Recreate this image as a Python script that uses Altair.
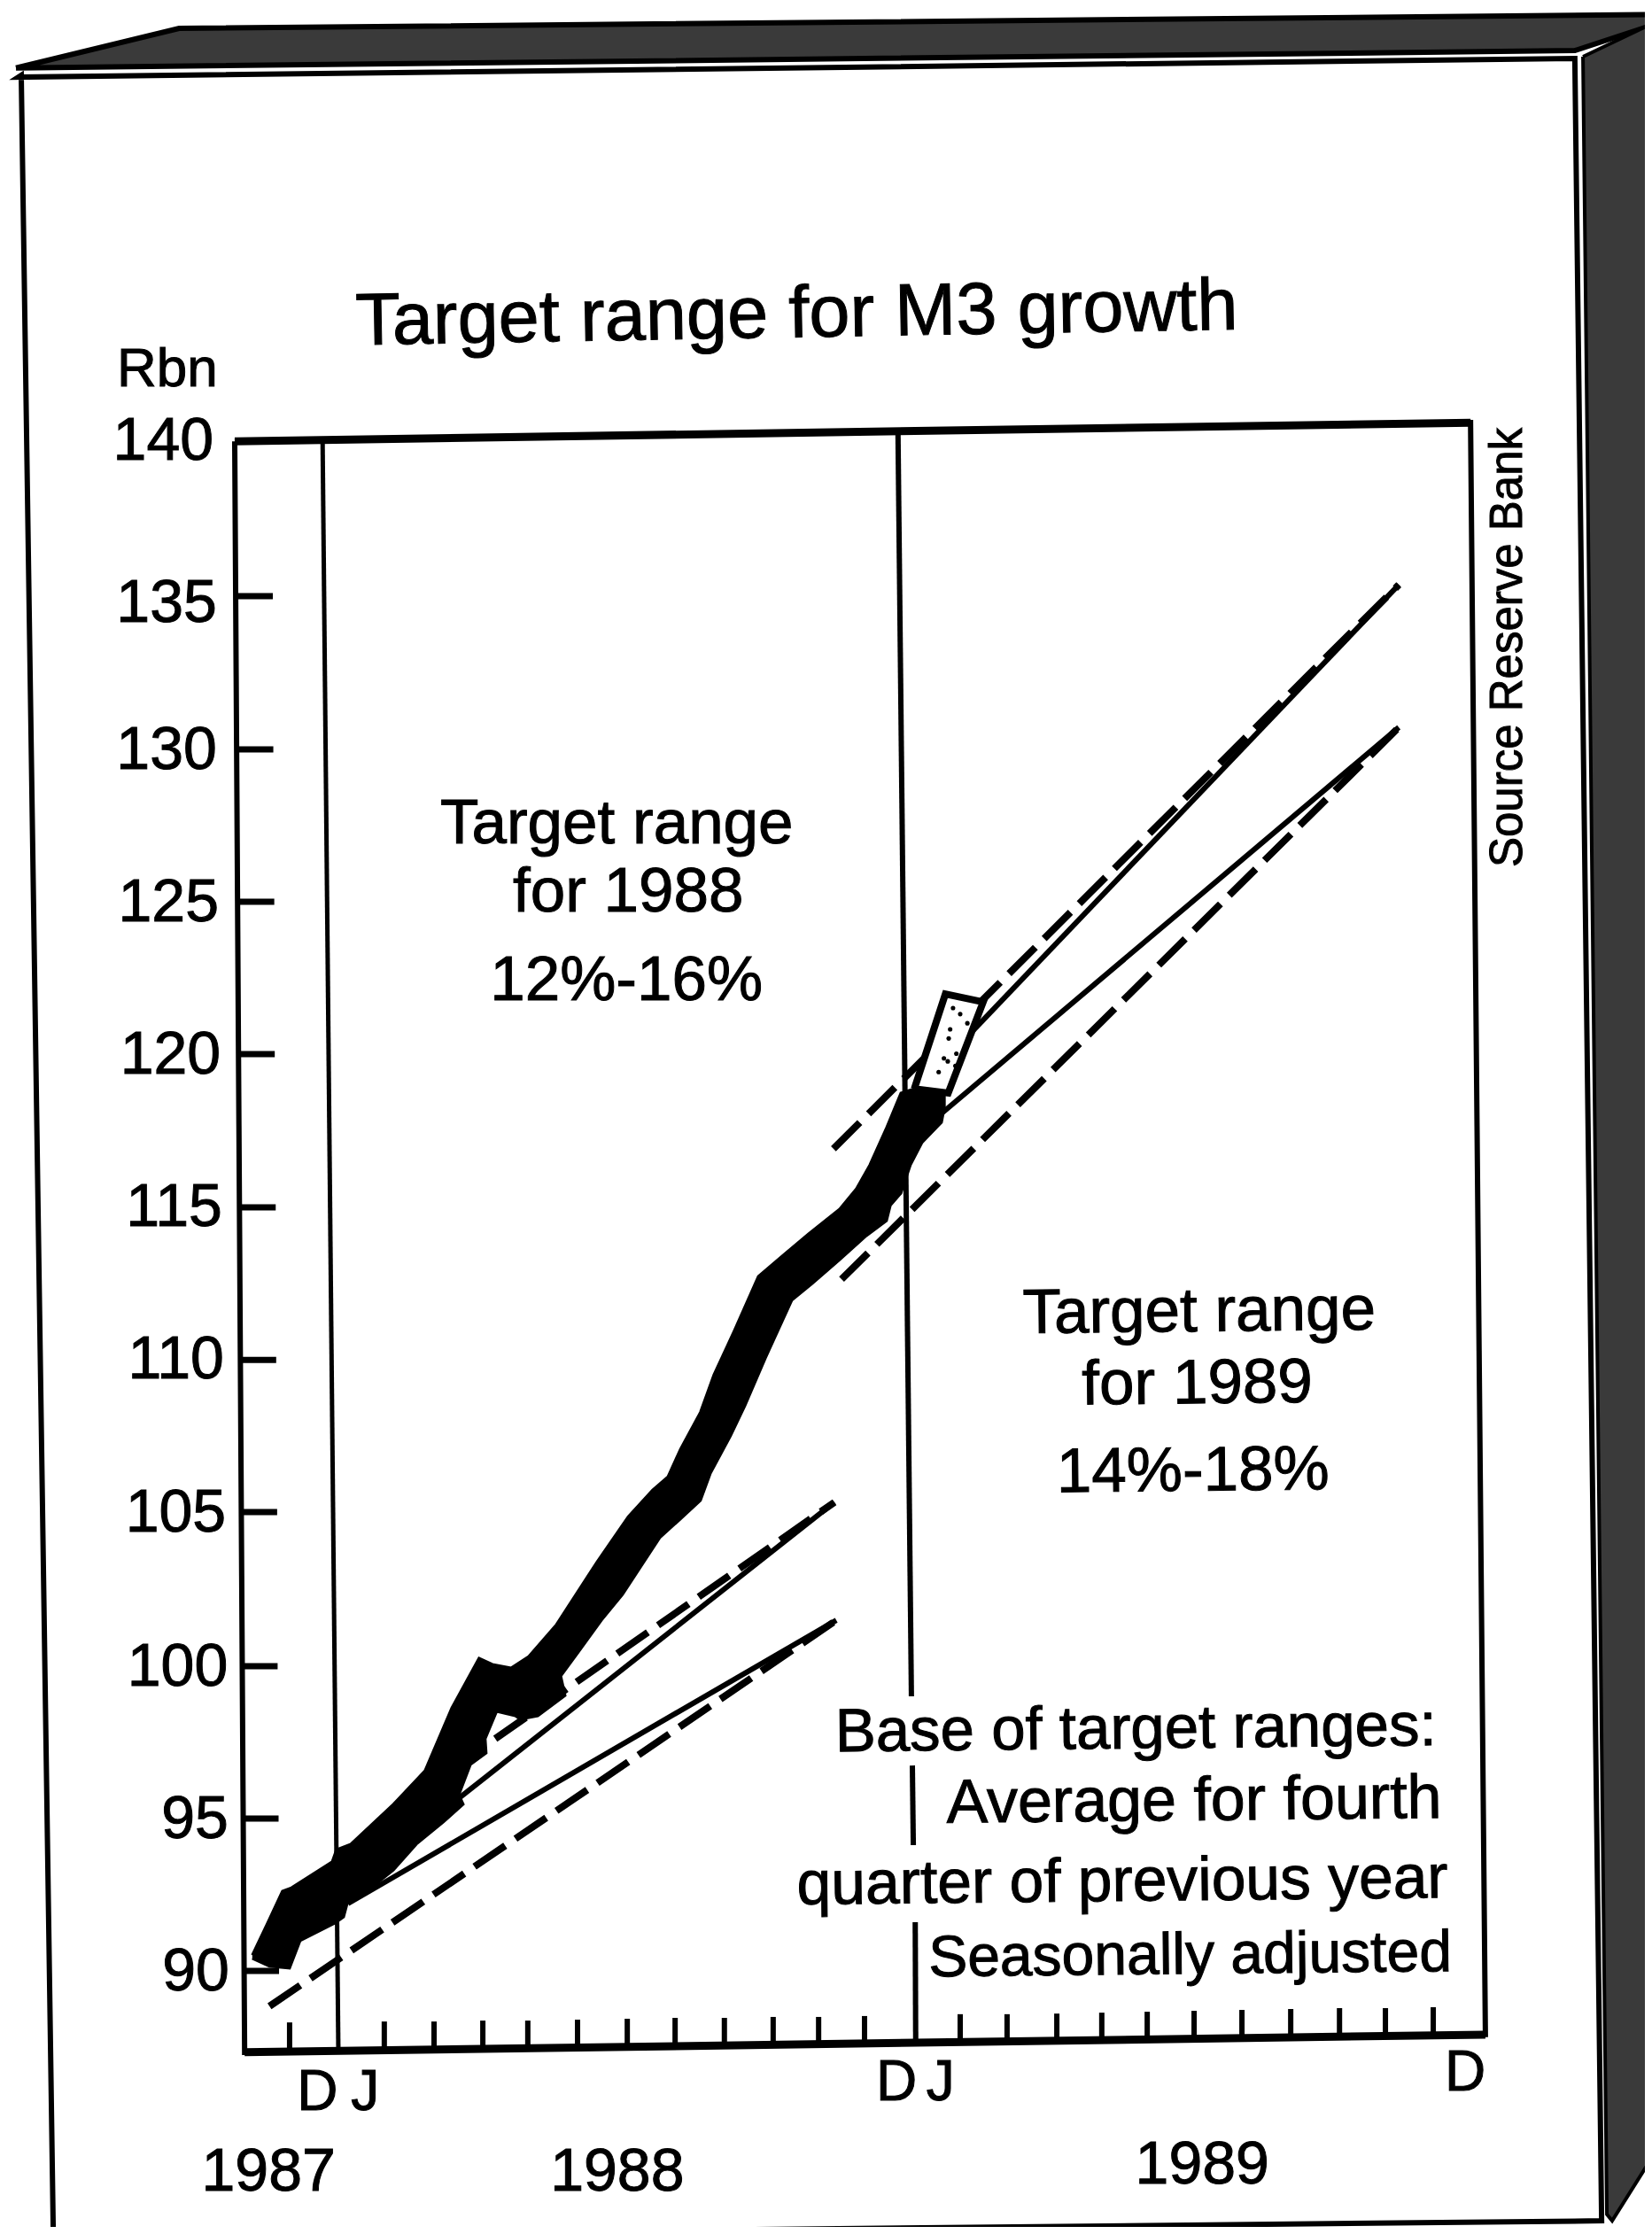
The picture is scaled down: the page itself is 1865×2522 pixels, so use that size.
import altair as alt
import pandas as pd

# Months since December 1987 and Rbn
X_DOMAIN = [-6.926, 27.315]
Y_DOMAIN = [81.599, 154.448]

band_upper_x = [-1.80,-1.50,-1.17,-0.98,-0.13,-0.04,0.26,1.15,1.81,2.37,2.94,3.22,3.61,3.98,4.56,5.41,6.06,6.57,6.89,7.15,7.57,7.85,8.28,8.78,9.28,9.83,10.48,10.83,11.11,11.46,11.76,12.04,12.52,12.67]
band_upper_y = [90.52,91.51,92.62,92.73,93.58,93.98,94.16,95.47,96.57,98.63,100.26,100.06,99.94,100.32,101.37,103.43,104.91,105.78,106.22,107.12,108.34,109.56,111.02,112.79,113.46,114.19,115.0,115.67,116.45,117.67,118.81,118.95,118.72,118.75]
band_lower_x = [-1.80,-1.44,-1.02,-0.80,-0.07,0.11,0.20,0.69,1.15,1.63,2.19,2.61,2.52,2.76,3.09,3.07,3.31,3.70,3.80,4.17,4.74,4.65,5.02,5.50,5.94,6.72,7.15,7.57,7.78,8.20,8.50,8.93,9.48,9.91,10.48,11.04,11.46,11.54,11.76,11.96,12.20,12.61,12.67]
band_lower_y = [90.41,90.15,90.09,90.99,91.57,91.77,92.30,92.73,93.31,94.16,94.88,95.47,95.78,96.77,97.15,97.62,98.52,98.37,98.26,98.37,99.04,99.68,100.47,101.51,102.35,104.22,104.83,105.44,106.34,107.56,108.55,110.12,112.01,112.56,113.34,114.13,114.62,115.12,115.52,116.45,117.18,117.85,118.34]

upper88_solid = ([2.19,10.37],[95.26,105.38])
lower88_solid = ([0.20,10.41],[92.21,101.51])
upper88_dash = ([3.28,10.37],[97.62,105.38])
lower88_dash = ([-1.44,10.41],[88.84,101.51])
upper89_solid = ([12.74,22.17],[119.99,135.49])
lower89_solid = ([12.61,22.17],[118.14,130.81])
upper89_dash = ([10.35,22.17],[116.98,135.49])
lower89_dash = ([10.52,22.17],[112.70,130.81])

box_x = [12.04,12.69,13.48,12.75]
box_y = [118.95,122.06,121.80,118.81]
speck_x = [13.0,12.79,12.76,12.92,12.66,12.74,12.90,13.15,12.55,12.85]
speck_y = [121.4,120.9,120.6,120.1,119.95,119.85,119.7,121.1,119.5,121.6]

frame_x = [-2.167,23.67,23.98,-1.96,-2.167]
frame_y = [140.2,140.81,87.91,87.33,140.2]
dec87_x = [-0.33,0.0]
dec87_y = [140.23,87.33]
dec88_segments = [([11.70,11.98],[140.44,99.01]),([12.0,12.02],[96.74,94.13]),([12.06,12.07],[91.60,87.62])]

xtick_m = [-1.02,0.96,2.0,3.02,3.96,5.0,6.04,7.04,8.07,9.09,10.04,11.0,13.0,13.98,15.02,15.96,16.91,17.89,18.89,19.91,20.93,21.89,22.89]
xtick_base = [87.35,87.38,87.41,87.44,87.47,87.47,87.50,87.53,87.56,87.59,87.59,87.62,87.67,87.67,87.70,87.73,87.76,87.76,87.79,87.82,87.85,87.88,87.88]
xtick_top = [88.31,88.34,88.34,88.37,88.37,88.40,88.43,88.46,88.46,88.49,88.49,88.52,88.58,88.58,88.60,88.63,88.66,88.69,88.72,88.75,88.78,88.78,88.81]

ytick_v = [90.0,95.0,100.0,105.06,110.05,115.06,120.09,125.09,130.09,135.12]
ytick_x0 = [-2.0,-2.01,-2.03,-2.04,-2.06,-2.07,-2.09,-2.10,-2.12,-2.13]
ytick_x1 = [-1.24,-1.25,-1.27,-1.28,-1.30,-1.31,-1.33,-1.34,-1.36,-1.37]

roof_x = [-6.74,-3.33,27.46,27.46,25.85,-6.74]
roof_y = [152.45,153.75,154.2,153.85,153.02,152.45]
side_x = [26.02,27.46,27.46,26.63,26.52,26.02]
side_y = [152.82,153.90,83.87,81.80,82.01,152.82]
panel_x = [-5.96,-6.63,-6.69,25.85,26.41,1.81]
panel_y = [81.37,152.21,152.15,152.76,81.80,81.40]

label_text = ["Target range for M3 growth","Rbn",
              "140","135","130","125","120","115","110","105","100","95","90",
              "Target range","for 1988","12%-16%","Target range","for 1989","14%-18%",
              "Base of target ranges:","Average for fourth","quarter of previous year","Seasonally adjusted",
              "Source Reserve Bank","D","J","D","J","D","1987","1988","1989"]
label_m = [9.59,-4.63,-2.61,-2.54,-2.54,-2.5,-2.46,-2.43,-2.39,-2.35,-2.31,-2.30,-2.28,
           5.82,6.06,6.02,18.0,17.96,17.87,22.96,23.07,23.2,23.28,24.75,-0.44,0.56,11.67,12.59,23.56,-1.46,5.83,18.06]
label_v = [143.62,142.0,139.59,134.27,129.45,124.45,119.45,114.45,109.45,104.42,99.36,94.36,89.36,
           127.01,124.77,121.86,110.99,108.63,105.76,97.41,95.03,92.41,90.0,133.43,85.44,85.44,85.76,85.76,86.08,82.79,82.79,83.02]
label_size = [83,62]+[68]*11+[71]*6+[69,70,69.6,66]+[51]+[64]*5+[68]*3
label_angle = [359,0]+[0]*11+[0,0,0,359.4,359.4,359.4]+[359.4]*4+[270]+[0]*5+[0]*3
label_align = ["center","left"]+["right"]*11+["center"]*6+["right"]*4+["center"]*9

W, H = 1849, 2506
xs = alt.Scale(domain=X_DOMAIN, nice=False, zero=False)
ys = alt.Scale(domain=Y_DOMAIN, nice=False, zero=False)
X = alt.X("x:Q", scale=xs, axis=None)
Y = alt.Y("y:Q", scale=ys, axis=None)
ink = "#000000"


def path(px, py, width, dash=None, fill=None, cap="butt"):
    df = pd.DataFrame({"x": px, "y": py, "i": range(len(px))})
    kw = {"stroke": ink, "strokeWidth": width, "strokeCap": cap, "clip": False}
    if dash:
        kw["strokeDash"] = dash
    if fill:
        kw["fill"] = fill
    return alt.Chart(df).mark_line(**kw).encode(x=X, y=Y, order=alt.Order("i:Q"))


layers = [
    path(roof_x, roof_y, 6, fill="#3a3a3a"),
    path(side_x, side_y, 4, fill="#3a3a3a"),
    path(panel_x, panel_y, 6),
    path(frame_x, frame_y, 6),
    path(frame_x[:2], frame_y[:2], 9),
    path(frame_x[2:4], frame_y[2:4], 9),
    path(dec87_x, dec87_y, 5),
]
layers += [path(a, b, 6) for a, b in dec88_segments]

xt = pd.DataFrame({"x": xtick_m, "y": xtick_base, "y2": xtick_top})
layers.append(alt.Chart(xt).mark_rule(stroke=ink, strokeWidth=6).encode(x=X, y=Y, y2="y2:Q"))
yt = pd.DataFrame({"x": ytick_x0, "x2": ytick_x1, "y": ytick_v})
layers.append(alt.Chart(yt).mark_rule(stroke=ink, strokeWidth=7).encode(x=X, x2="x2:Q", y=Y))

for a, b in (upper88_dash, lower88_dash, upper89_dash, lower89_dash):
    layers.append(path(a, b, 8, dash=[42, 14]))
for a, b in (upper88_solid, lower88_solid, upper89_solid, lower89_solid):
    layers.append(path(a, b, 6))

layers.append(path(band_upper_x + band_lower_x[::-1], band_upper_y + band_lower_y[::-1], 3, fill=ink))
layers.append(path(box_x + box_x[:1], box_y + box_y[:1], 8, fill="#ffffff"))
sp = pd.DataFrame({"x": speck_x, "y": speck_y})
layers.append(alt.Chart(sp).mark_point(filled=True, color=ink, size=26, opacity=1).encode(x=X, y=Y))

lab = pd.DataFrame({"x": label_m, "y": label_v, "t": label_text, "s": label_size,
                    "a": label_angle, "al": label_align})
for al in ("left", "center", "right"):
    layers.append(
        alt.Chart(lab[lab.al == al]).mark_text(align=al, baseline="alphabetic", color=ink, stroke=ink,
                                               strokeWidth=1, font="Liberation Sans").encode(
            x=X, y=Y, text="t:N",
            size=alt.Size("s:Q", scale=None, legend=None),
            angle=alt.Angle("a:Q", scale=None),
        )
    )

chart = (
    alt.layer(*layers)
    .properties(width=W, height=H, padding=0, background="white",
                autosize=alt.AutoSizeParams(type="none"))
    .configure_view(stroke=None)
)
chart.save("out.html", embed_options={"renderer": "svg", "actions": False})
